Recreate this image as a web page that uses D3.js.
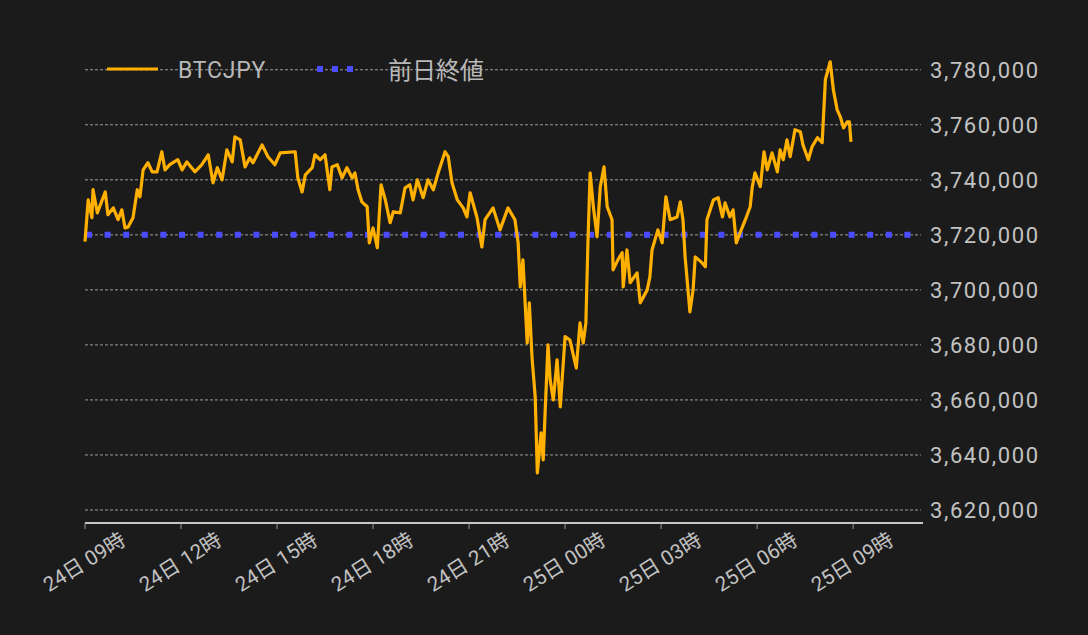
<!DOCTYPE html>
<html><head><meta charset="utf-8">
<script src="https://cdn.jsdelivr.net/npm/d3@7"></script>
<style>html,body{margin:0;background:#1b1b1b;}svg{display:block;font-family:Roboto,"Noto Sans CJK JP",sans-serif;}</style>
</head><body><svg id="c" width="1088" height="635"></svg>
<script>
// minutes after 24日 09:00
const minutes = [0,6,13,15,23,38,43,53,62,69,75,81,90,98,103,109,118,126,135,144,150,159,174,182,191,206,219,231,240,248,257,266,276,281,291,300,309,315,332,343,356,366,394,399,407,413,426,431,441,450,459,463,473,482,491,501,506,512,519,529,533,540,548,555,563,572,578,591,600,609,615,623,634,643,653,662,675,681,688,698,709,716,722,735,744,750,765,778,793,806,812,816,821,829,833,838,844,848,855,859,863,868,872,878,885,891,900,909,921,928,934,939,943,947,953,960,966,973,979,988,990,999,1007,1009,1016,1022,1035,1041,1054,1059,1063,1074,1082,1089,1097,1110,1116,1121,1125,1131,1134,1140,1144,1157,1163,1166,1178,1187,1195,1200,1209,1215,1221,1228,1238,1247,1251,1256,1266,1273,1279,1288,1298,1303,1309,1316,1322,1331,1341,1346,1356,1363,1373,1382,1388,1393,1397,1403,1410,1416,1422,1429,1433,1436];
// prices in thousand JPY
const prices = [3717.5,3732.7,3726.2,3736.4,3728.0,3735.6,3727.3,3729.8,3725.5,3729.1,3722.5,3722.9,3726.2,3736.4,3733.8,3743.6,3746.2,3742.9,3742.9,3750.2,3743.6,3745.5,3747.3,3743.6,3746.5,3742.9,3745.5,3749.1,3738.9,3744.4,3740.0,3750.9,3746.5,3755.6,3754.5,3744.7,3748.0,3746.2,3752.7,3748.4,3745.5,3749.8,3750.2,3740.7,3735.6,3741.8,3744.4,3749.1,3747.3,3749.1,3736.4,3744.7,3745.5,3740.7,3744.4,3740.7,3742.5,3736.4,3732.0,3730.2,3717.1,3722.5,3715.3,3738.2,3732.7,3724.4,3728.4,3728.0,3737.1,3738.2,3732.7,3740.0,3733.5,3740.0,3736.4,3742.5,3750.2,3748.4,3738.9,3732.7,3729.8,3726.5,3735.3,3726.2,3715.6,3725.5,3729.8,3721.8,3729.8,3725.5,3717.1,3701.1,3710.9,3680.7,3695.3,3675.6,3661.1,3633.5,3648.0,3638.2,3657.5,3680.0,3667.3,3660.0,3674.6,3657.5,3683.0,3681.8,3671.6,3688.0,3680.7,3688.0,3718.2,3742.5,3730.2,3719.3,3737.5,3744.7,3730.2,3725.5,3707.3,3710.9,3713.5,3701.1,3714.5,3702.6,3706.2,3695.3,3700.0,3704.7,3714.5,3721.8,3717.1,3733.8,3725.5,3726.5,3732.0,3725.5,3712.0,3698.9,3692.0,3700.0,3712.0,3709.8,3708.4,3725.5,3732.7,3733.5,3726.5,3731.6,3726.5,3729.1,3717.1,3720.7,3725.5,3730.2,3737.5,3742.5,3737.5,3750.2,3743.6,3749.8,3742.9,3750.9,3747.3,3754.5,3748.4,3758.2,3757.5,3752.7,3747.3,3752.0,3755.3,3753.5,3776.4,3780.0,3782.9,3772.7,3765.5,3762.9,3758.9,3761.1,3761.1,3753.8];
const prevClose = 3720000;
const yTicks = [3620000,3640000,3660000,3680000,3700000,3720000,3740000,3760000,3780000];
const xTickHours = [0,3,6,9,12,15,18,21,24];
const xTickLabels = ["24日 09時","24日 12時","24日 15時","24日 18時","24日 21時","25日 00時","25日 03時","25日 06時","25日 09時"];

const svg = d3.select("#c");
const L=85, R=923, T=56, B=523;
const x = d3.scaleLinear().domain([0, 1571]).range([L, R]);
const y = d3.scaleLinear().domain([3615273, 3785000]).range([B, T]);
const data = minutes.map((m,i)=>({m, p: prices[i]*1000}));

svg.append("g").selectAll("line").data(yTicks).join("line")
  .attr("x1",L).attr("x2",921).attr("y1",d=>y(d)).attr("y2",d=>y(d))
  .attr("stroke","#bdbdbd").attr("stroke-width",0.8).attr("stroke-dasharray","3,2");
svg.append("g").selectAll("text").data(yTicks).join("text")
  .attr("x",930).attr("y",d=>y(d)+8).attr("fill","#c2c2c2").attr("font-size",22).attr("letter-spacing",1.6)
  .text(d=>d3.format(",")(d));

svg.append("line").attr("x1",L).attr("x2",R).attr("y1",B).attr("y2",B).attr("stroke","#c8c8c8").attr("stroke-width",2);
svg.append("g").selectAll("line").data(xTickHours).join("line")
  .attr("x1",d=>x(d*60)).attr("x2",d=>x(d*60)).attr("y1",B).attr("y2",B+6).attr("stroke","#999").attr("stroke-width",1);
svg.append("g").selectAll("text").data(xTickHours).join("text")
  .attr("transform",d=>`translate(${x(d*60)+3},${B+45}) rotate(-32)`)
  .attr("text-anchor","middle").attr("fill","#c2c2c2").attr("font-size",20.5)
  .text((d,i)=>xTickLabels[i]);

svg.append("line").attr("x1",86).attr("x2",921).attr("y1",y(prevClose)).attr("y2",y(prevClose))
  .attr("stroke","#4b4bff").attr("stroke-width",6).attr("stroke-dasharray","6,12.6");

svg.append("path").datum(data).attr("fill","none").attr("stroke","#ffb000").attr("stroke-width",3.2)
  .attr("stroke-linejoin","round")
  .attr("d",d3.line().x(d=>x(d.m)).y(d=>y(d.p)));

// legend
svg.append("line").attr("x1",107).attr("x2",158).attr("y1",69).attr("y2",69).attr("stroke","#ffb000").attr("stroke-width",3);
svg.append("text").attr("x",178).attr("y",78).attr("fill","#b8b8b8").attr("font-size",23).attr("letter-spacing",0.8).text("BTCJPY");
svg.append("line").attr("x1",317).attr("x2",362).attr("y1",69).attr("y2",69).attr("stroke","#4b4bff").attr("stroke-width",6).attr("stroke-dasharray","6,9");
svg.append("text").attr("x",388).attr("y",79).attr("fill","#b8b8b8").attr("font-size",24).text("前日終値");
</script></body></html>
